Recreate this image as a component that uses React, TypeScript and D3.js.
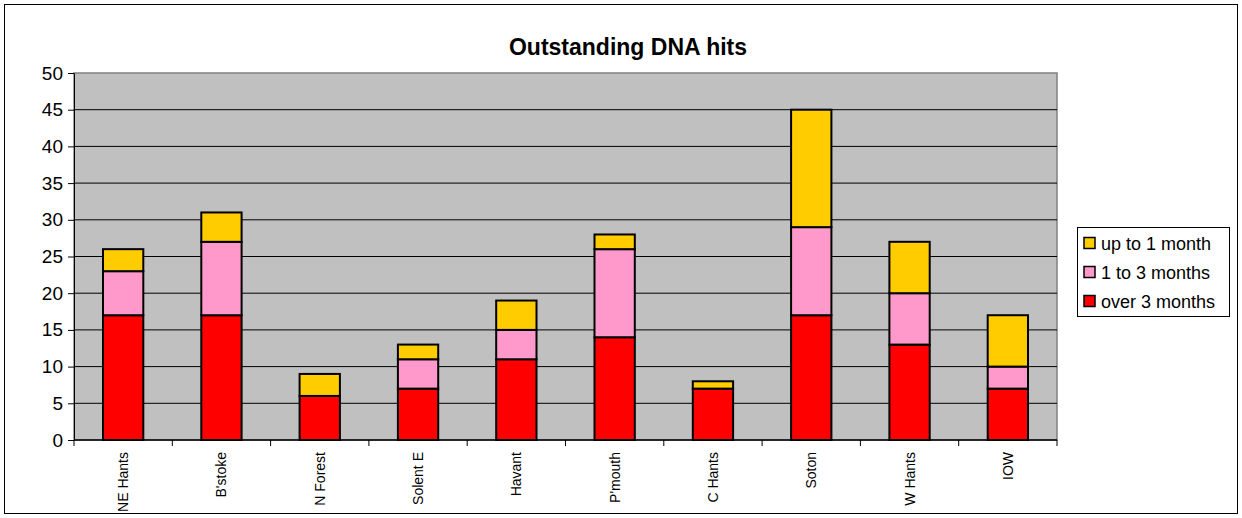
import React, { useEffect, useRef } from 'react'
import * as d3 from 'd3'

const categories = ["NE Hants", "B'stoke", "N Forest", "Solent E", "Havant", "P'mouth", "C Hants", "Soton", "W Hants", "IOW"]
const over3 = [17, 17, 6, 7, 11, 14, 7, 17, 13, 7]
const oneTo3 = [6, 10, 0, 4, 4, 12, 0, 12, 7, 3]
const upTo1 = [3, 4, 3, 2, 4, 2, 1, 16, 7, 7]
const yTicks = [0, 5, 10, 15, 20, 25, 30, 35, 40, 45, 50]

const seriesNames = ['over 3 months', '1 to 3 months', 'up to 1 month']
const seriesColors = ['#FF0000', '#FF99CC', '#FFCC00']

const width = 1242
const height = 518
const plot = { left: 74, right: 1057, top: 73, bottom: 440 }

export default function App() {
  const svgRef = useRef<SVGSVGElement | null>(null)

  useEffect(() => {
    const svg = d3.select(svgRef.current)
    svg.selectAll('*').remove()
    const font = 'Arial, "Liberation Sans", sans-serif'

    // outer frame
    svg.append('rect')
      .attr('x', 4.5).attr('y', 4.5)
      .attr('width', width - 9).attr('height', height - 9)
      .attr('fill', '#fff').attr('stroke', '#000').attr('stroke-width', 1)

    const x = d3.scaleBand().domain(categories).range([plot.left, plot.right]).padding(0)
    const y = d3.scaleLinear().domain([0, 50]).range([plot.bottom, plot.top])

    svg.append('rect')
      .attr('x', plot.left).attr('y', plot.top)
      .attr('width', plot.right - plot.left).attr('height', plot.bottom - plot.top)
      .attr('fill', '#C0C0C0').attr('stroke', '#808080').attr('stroke-width', 1.5)

    // gridlines
    svg.append('g').selectAll('line')
      .data(yTicks.filter(t => t > 0 && t < 50))
      .join('line')
      .attr('x1', plot.left).attr('x2', plot.right)
      .attr('y1', d => y(d)).attr('y2', d => y(d))
      .attr('stroke', '#000').attr('stroke-width', 1)

    // y axis
    svg.append('g')
      .attr('transform', `translate(${plot.left},0)`)
      .call(d3.axisLeft(y).tickValues(yTicks).tickSize(6).tickPadding(5).tickSizeOuter(0))
      .call(g => g.select('.domain').attr('stroke', '#000').attr('stroke-width', 1))
      .call(g => g.selectAll('.tick line').attr('stroke', '#000'))
      .call(g => g.selectAll('text').attr('font-size', '19px').attr('font-family', font).attr('fill', '#000'))

    // x axis: ticks between categories
    const xAxis = svg.append('g')
    xAxis.append('line')
      .attr('x1', plot.left).attr('x2', plot.right)
      .attr('y1', plot.bottom).attr('y2', plot.bottom)
      .attr('stroke', '#000').attr('stroke-width', 1.5)
    xAxis.selectAll('line.tk')
      .data(d3.range(categories.length + 1))
      .join('line')
      .attr('class', 'tk')
      .attr('x1', i => plot.left + i * x.step()).attr('x2', i => plot.left + i * x.step())
      .attr('y1', plot.bottom).attr('y2', plot.bottom + 6)
      .attr('stroke', '#000')
    xAxis.selectAll('text')
      .data(categories)
      .join('text')
      .attr('transform', d => `translate(${x(d)! + x.bandwidth() / 2 + 5},${plot.bottom + 12}) rotate(-90)`)
      .attr('text-anchor', 'end')
      .attr('font-size', '14px')
      .attr('font-family', font)
      .text(d => d)

    // stacked bars
    const rows = categories.map((c, i) => ({ cat: c, s0: over3[i], s1: oneTo3[i], s2: upTo1[i] }))
    const stack = d3.stack<any>().keys(['s0', 's1', 's2'])(rows)
    const barW = x.bandwidth() * 0.41
    stack.forEach((layer, li) => {
      svg.append('g').selectAll('rect')
        .data(layer.filter(d => d[1] - d[0] > 0))
        .join('rect')
        .attr('x', d => x(d.data.cat)! + (x.bandwidth() - barW) / 2)
        .attr('y', d => y(d[1]))
        .attr('width', barW)
        .attr('height', d => y(d[0]) - y(d[1]))
        .attr('fill', seriesColors[li])
        .attr('stroke', '#000').attr('stroke-width', 2)
    })

    // title
    svg.append('text')
      .attr('x', 628).attr('y', 55)
      .attr('text-anchor', 'middle')
      .attr('font-size', '23px').attr('font-weight', 'bold')
      .attr('font-family', font)
      .text('Outstanding DNA hits')

    // legend
    const lg = svg.append('g')
    lg.append('rect')
      .attr('x', 1077.5).attr('y', 227.5).attr('width', 152).attr('height', 89)
      .attr('fill', '#fff').attr('stroke', '#000').attr('stroke-width', 1)
    const legendOrder = [2, 1, 0]
    legendOrder.forEach((si, k) => {
      const cy = 243 + k * 29
      lg.append('rect')
        .attr('x', 1084).attr('y', cy - 5.5).attr('width', 11).attr('height', 11)
        .attr('fill', seriesColors[si]).attr('stroke', '#000').attr('stroke-width', 1.5)
      lg.append('text')
        .attr('x', 1101).attr('y', cy + 6.5)
        .attr('font-size', '18px').attr('font-family', font)
        .text(seriesNames[si])
    })
  }, [])

  return (
    <svg ref={svgRef} width={width} height={height} style={{ position: 'absolute', left: 0, top: 0 }}></svg>
  )
}
